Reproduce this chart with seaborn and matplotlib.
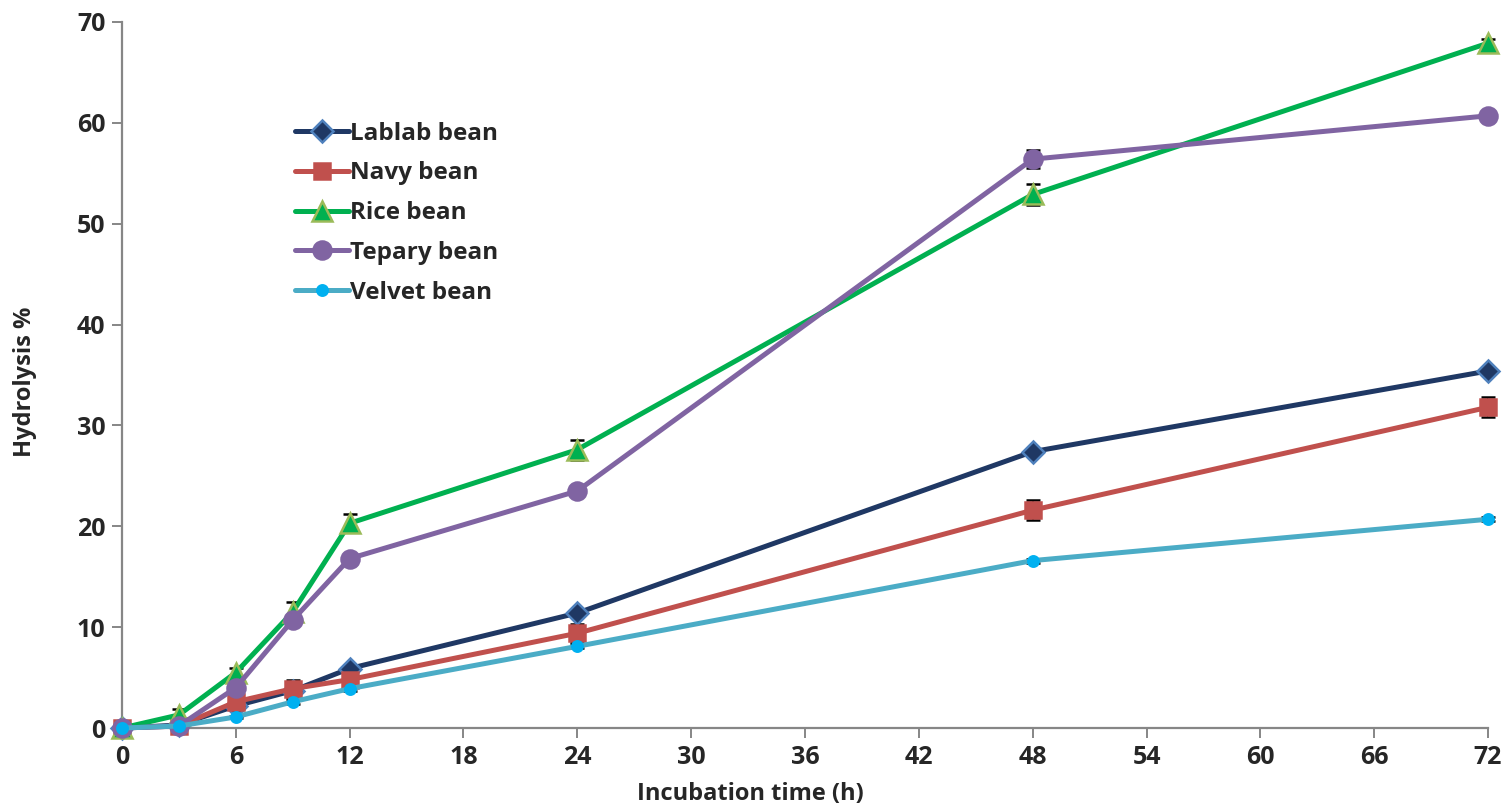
import matplotlib
matplotlib.use("Agg")
import matplotlib.pyplot as plt
import seaborn as sns
import pandas as pd
import numpy as np

time_h = [0, 3, 6, 9, 12, 24, 48, 72]
lablab = [0.0, 0.3, 2.2, 3.7, 5.9, 11.4, 27.4, 35.4]
navy = [0.0, 0.2, 2.6, 3.9, 4.8, 9.4, 21.6, 31.8]
rice = [0.0, 1.3, 5.5, 11.5, 20.3, 27.6, 52.9, 67.9]
tepary = [0.0, 0.2, 4.0, 10.7, 16.8, 23.5, 56.4, 60.7]
velvet = [0.0, 0.2, 1.1, 2.6, 3.9, 8.1, 16.6, 20.7]

lablab_err = [0.2, 0.1, 0.3, 0.3, 0.3, 0.3, 0.3, 0.3]
navy_err = [0.6, 0.2, 0.6, 0.9, 0.5, 0.9, 1.0, 1.0]
rice_err = [0.3, 0.6, 0.5, 1.0, 0.9, 1.0, 1.0, 0.4]
tepary_err = [0.3, 0.1, 0.3, 0.5, 0.3, 0.3, 0.9, 0.4]
velvet_err = [0.1, 0.1, 0.1, 0.2, 0.2, 0.2, 0.2, 0.2]

names = ["Lablab bean", "Navy bean", "Rice bean", "Tepary bean", "Velvet bean"]
x_ticks = list(range(0, 73, 6))
y_ticks = list(range(0, 71, 10))

sns.set_theme(style="white")
plt.rcParams['font.family'] = ['Open Sans', 'DejaVu Sans']

fig = plt.figure(figsize=(15.11, 8.11), dpi=100)
ax = fig.add_axes([0.0807, 0.1023, 0.9041, 0.8706])

series = [
    (names[0], lablab, lablab_err, "#1F3864", "D", "#1F3864", "#4F81BD", 11),
    (names[1], navy, navy_err, "#C0504D", "s", "#C0504D", "#C0504D", 12),
    (names[2], rice, rice_err, "#00B050", "^", "#00B050", "#9BBB59", 14),
    (names[3], tepary, tepary_err, "#8064A2", "o", "#8064A2", "#8064A2", 13),
    (names[4], velvet, velvet_err, "#4BACC6", "o", "#00B0F0", "#00B0F0", 7.5),
]

for name, vals, err, col, mk, mfc, mec, ms in series:
    ax.errorbar(time_h, vals, yerr=err, fmt="none", ecolor="black",
                elinewidth=1.2, capsize=5, capthick=1.8, zorder=1)
    df = pd.DataFrame({"t": time_h, "v": vals})
    sns.lineplot(data=df, x="t", y="v", ax=ax, color=col, linewidth=3.6,
                 marker=mk, markersize=ms, markerfacecolor=mfc,
                 markeredgecolor=mec, markeredgewidth=1.8, label=name, zorder=3)

ax.set_xlim(0, 72)
ax.set_ylim(0, 70)
ax.set_xticks(x_ticks)
ax.set_yticks(y_ticks)
ax.set_xlabel("Incubation time (h)", fontsize=17, fontweight="bold")
ax.set_ylabel("Hydrolysis %", fontsize=17, fontweight="bold")
ax.xaxis.set_label_coords(0.46, -0.076)
ax.yaxis.set_label_coords(-0.062, 0.49)
for lbl in ax.get_xticklabels() + ax.get_yticklabels():
    lbl.set_fontweight("bold")
    lbl.set_fontsize(18)
ax.tick_params(axis="both", which="major", direction="out", length=7, width=1.4,
               color="#868686", bottom=True, left=True, pad=5)
for sp in ["top", "right"]:
    ax.spines[sp].set_visible(False)
for sp in ["left", "bottom"]:
    ax.spines[sp].set_color("#868686")
    ax.spines[sp].set_linewidth(1.6)
for line in ax.lines:
    line.set_clip_on(False)

leg = ax.legend(loc="upper left", bbox_to_anchor=(0.111, 0.89), frameon=False,
                prop={"weight": "bold", "size": 17.5}, handlelength=2.2,
                handletextpad=0.05, labelspacing=0.65)

fig.savefig("out.png", dpi=100)
